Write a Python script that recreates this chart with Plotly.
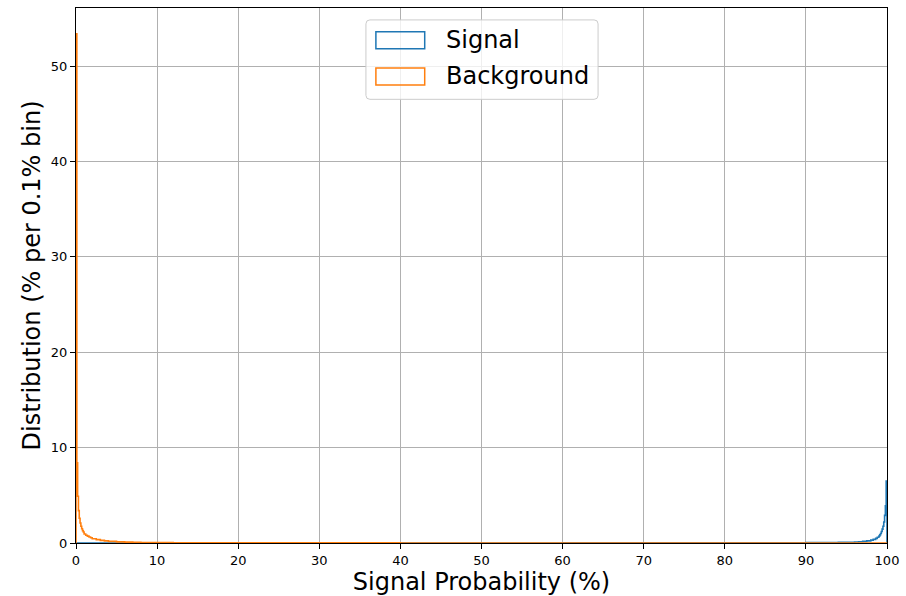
import plotly.graph_objects as go

# ---- data (percent per 0.1% bin), step-histogram bin edges & values ----
bg_edges = [0, 0.1, 0.2, 0.3, 0.4, 0.5, 0.6, 0.7, 0.8, 0.9, 1.0,
            1.2, 1.4, 1.6, 1.8, 2.0, 2.5, 3.0, 3.5, 4.0, 5.0, 6.0, 7.0, 8.0,
            10, 12, 15, 20, 30, 40, 60, 80, 100]
bg_values = [53.4, 8.4, 4.9, 3.4, 2.6, 2.1, 1.75, 1.5, 1.3, 1.15,
             0.95, 0.82, 0.72, 0.63, 0.55, 0.45, 0.35, 0.28, 0.22, 0.17,
             0.12, 0.09, 0.07, 0.055, 0.04, 0.03, 0.022, 0.015, 0.01, 0.007,
             0.005, 0.004]

sig_edges = [0, 20, 40, 60, 70, 80, 85, 88, 90, 92, 94, 95, 96, 96.5, 97, 97.5,
             98, 98.3, 98.6, 98.8, 99.0, 99.1, 99.2, 99.3, 99.4, 99.5, 99.6,
             99.7, 99.8, 99.9, 100]
sig_values = [0.002, 0.003, 0.005, 0.008, 0.012, 0.018, 0.025, 0.032, 0.04, 0.05,
              0.065, 0.08, 0.1, 0.13, 0.17, 0.22, 0.3, 0.38, 0.48, 0.6,
              0.72, 0.85, 1.0, 1.2, 1.45, 1.75, 2.2, 2.9, 3.9, 6.5]

series_names = ["Signal", "Background"]
series_colors = ["#1f77b4", "#ff7f0e"]
x_ticks = [0, 10, 20, 30, 40, 50, 60, 70, 80, 90, 100]
y_ticks = [0, 10, 20, 30, 40, 50]

FONT = "DejaVu Sans"


def step_xy(edges, values):
    xs = [edges[0]] + list(edges)
    ys = [0] + list(values) + [0]
    return xs, ys


fig = go.Figure()
for name, color, edges, vals in [
    (series_names[0], series_colors[0], sig_edges, sig_values),
    (series_names[1], series_colors[1], bg_edges, bg_values),
]:
    xs, ys = step_xy(edges, vals)
    fig.add_trace(go.Scatter(x=xs, y=ys, mode="lines", name=name,
                             line=dict(color=color, width=1.6, shape="hv"),
                             showlegend=False))

# ---- manual matplotlib-style legend ----
W, H = 814.0, 539.0
def px(xp):
    return (xp - 76) / W
def py(yp):
    return (546 - yp) / H

x0, x1, y0, y1 = px(367), px(600), py(99), py(19)
rx, ry = 4 / W, 4 / H
path = (f"M{x0+rx},{y0} L{x1-rx},{y0} Q{x1},{y0} {x1},{y0+ry} "
        f"L{x1},{y1-ry} Q{x1},{y1} {x1-rx},{y1} L{x0+rx},{y1} "
        f"Q{x0},{y1} {x0},{y1-ry} L{x0},{y0+ry} Q{x0},{y0} {x0+rx},{y0} Z")
shapes = [dict(type="path", path=path, xref="paper", yref="paper",
               fillcolor="rgba(255,255,255,0.8)", line=dict(color="#cccccc", width=1),
               layer="above")]
annotations = []
for i, (name, color) in enumerate(zip(series_names, series_colors)):
    top = 31 + i * 36.5
    shapes.append(dict(type="rect", xref="paper", yref="paper",
                       x0=px(377), x1=px(426), y0=py(top + 17), y1=py(top),
                       line=dict(color=color, width=1.5), fillcolor="rgba(0,0,0,0)",
                       layer="above"))
    annotations.append(dict(text=name, xref="paper", yref="paper",
                            x=px(445), y=py(top + 8.5), xanchor="left", yanchor="middle",
                            showarrow=False, font=dict(family=FONT, size=24, color="black")))

fig.update_layout(
    width=906, height=596,
    margin=dict(l=76, r=16, t=7, b=50),
    paper_bgcolor="white", plot_bgcolor="white",
    font=dict(family=FONT, color="black"),
    shapes=shapes, annotations=annotations,
    showlegend=False,
)
fig.update_xaxes(range=[0, 100], tickvals=x_ticks, ticks="outside", ticklen=5,
                 tickcolor="black", tickfont=dict(size=13, family=FONT),
                 showline=True, linecolor="black", linewidth=1, mirror=True,
                 showgrid=True, gridcolor="#b0b0b0", gridwidth=1, zeroline=False,
                 title=dict(text="Signal Probability (%)", font=dict(size=24, family=FONT),
                            standoff=5))
fig.update_yaxes(range=[0, 56.1], tickvals=y_ticks, ticks="outside", ticklen=5,
                 tickcolor="black", tickfont=dict(size=13, family=FONT),
                 showline=True, linecolor="black", linewidth=1, mirror=True,
                 showgrid=True, gridcolor="#b0b0b0", gridwidth=1, zeroline=False,
                 title=dict(text="Distribution (% per 0.1% bin)", font=dict(size=24, family=FONT),
                            standoff=3))

fig.write_html("out.html")
